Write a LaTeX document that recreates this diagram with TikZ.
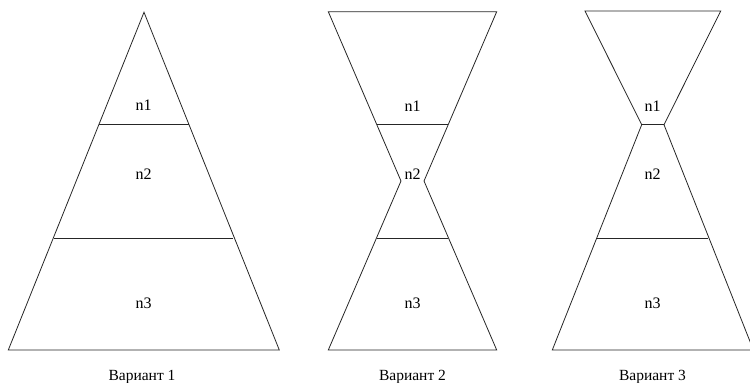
\documentclass[tikz,border=0pt]{standalone}
\usepackage{fontspec}
\setmainfont{Liberation Serif}
\begin{document}
\begin{tikzpicture}[x=1pt,y=-1pt,
  outline/.style={draw=black!85,line width=0.8pt,line join=miter},
  lbl/.style={font=\fontsize{16}{19}\selectfont,anchor=base,inner sep=0pt},
  captext/.style={font=\fontsize{15.5}{18}\selectfont,anchor=base,inner sep=0pt}]
\useasboundingbox (0,0) rectangle (750,383);
\begin{scope}
\clip (0,0) rectangle (750,383);
% Variant 1: plain pyramid
\coordinate (a1) at (144,12.3);
\coordinate (a1l) at (98.7,124.7); \coordinate (a1r) at (188.7,124.7);
\coordinate (a2l) at (53.7,238);   \coordinate (a2r) at (233.3,238);
\coordinate (a3l) at (8.3,350);    \coordinate (a3r) at (279.3,350);
\draw[outline] (a1) -- (a3r) -- (a3l) -- cycle;
\draw[outline] (a1l) -- (a1r);
\draw[outline] (a2l) -- (a2r);
% Variant 2: hourglass, waist inside n2
\coordinate (b0l) at (328.3,11.7); \coordinate (b0r) at (496.7,11.7);
\coordinate (b1l) at (377.2,124.7); \coordinate (b1r) at (447.8,124.7);
\coordinate (bwl) at (401,181);   \coordinate (bwr) at (424,181);
\coordinate (b2l) at (377.2,238); \coordinate (b2r) at (447.8,238);
\coordinate (b3l) at (328.3,350); \coordinate (b3r) at (496.7,350);
\draw[outline] (b0l) -- (b0r) -- (bwr) -- (b3r) -- (b3l) -- (bwl) -- cycle;
\draw[outline] (b1l) -- (b1r);
\draw[outline] (b2l) -- (b2r);
% Variant 3: hourglass, waist between n1 and n2
\coordinate (c0l) at (585,11); \coordinate (c0r) at (720.7,11);
\coordinate (cwl) at (641.7,124.7); \coordinate (cwr) at (664,124.7);
\coordinate (c2l) at (597.3,238); \coordinate (c2r) at (708.4,238);
\coordinate (c3l) at (552.3,350); \coordinate (c3r) at (753.4,350);
\draw[outline] (c0l) -- (c0r) -- (cwr) -- (c3r) -- (c3l) -- (cwl) -- cycle;
\draw[outline] (cwl) -- (cwr);
\draw[outline] (c2l) -- (c2r);
\end{scope}
% Level labels
\node[lbl] (v1n1) at (143.5,110) {n1};
\node[lbl] (v1n2) at (143.5,179) {n2};
\node[lbl] (v1n3) at (143.5,308) {n3};
\node[lbl] (v2n1) at (412.5,111) {n1};
\node[lbl] (v2n2) at (412.5,179) {n2};
\node[lbl] (v2n3) at (412.5,308) {n3};
\node[lbl] (v3n1) at (652.5,111) {n1};
\node[lbl] (v3n2) at (652.5,179) {n2};
\node[lbl] (v3n3) at (652.5,308) {n3};
% Captions
\node[captext] (cap1) at (142,380) {Вариант 1};
\node[captext] (cap2) at (412.5,380) {Вариант 2};
\node[captext] (cap3) at (652.5,380) {Вариант 3};
\end{tikzpicture}
\end{document}
